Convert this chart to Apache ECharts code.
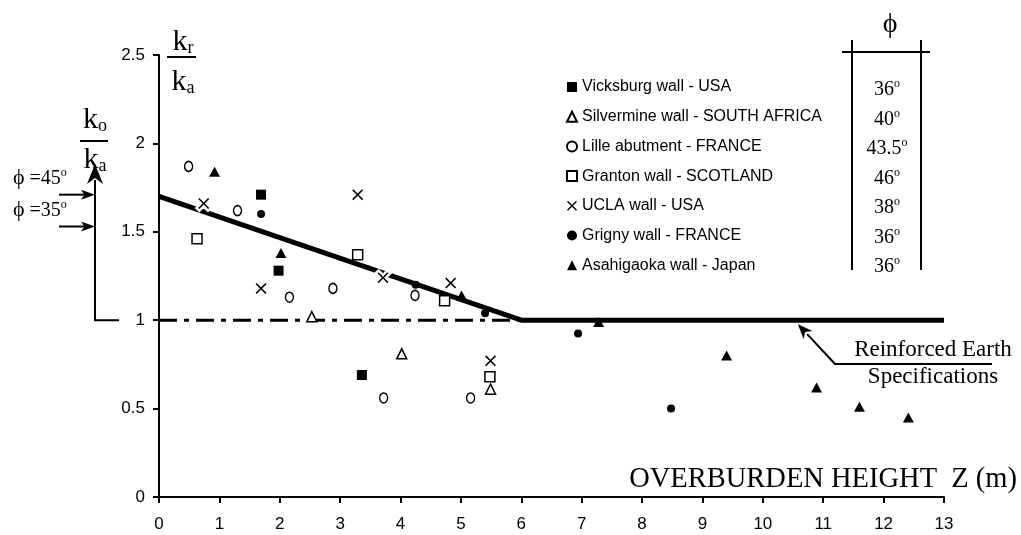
<!DOCTYPE html>
<html>
<head>
<meta charset="utf-8">
<script src="https://cdn.jsdelivr.net/npm/echarts@6/dist/echarts.min.js"></script>
<style>
html,body{margin:0;padding:0;background:#fff;}
#main{width:1021px;height:535px;}
</style>
</head>
<body>
<div id="main"></div>
<script>
// ---- data ----
const xTicks = [0,1,2,3,4,5,6,7,8,9,10,11,12,13];
const yTicks = [0,0.5,1,1.5,2,2.5];
const seriesNames = ['Vicksburg wall - USA','Silvermine wall - SOUTH AFRICA','Lille abutment - FRANCE','Granton wall - SCOTLAND','UCLA wall - USA','Grigny wall - FRANCE','Asahigaoka wall - Japan'];
const phiValues = ['36','40','43.5','46','38','36','36'];
const vicksburg = [[1.69,1.71],[1.98,1.28],[3.36,0.69]];
const silvermine = [[2.53,1.02],[4.02,0.81],[5.49,0.61]];
const lille = [[0.49,1.87],[1.30,1.62],[2.16,1.13],[2.88,1.18],[4.24,1.14],[3.72,0.56],[5.16,0.56]];
const granton = [[0.63,1.46],[3.29,1.37],[4.73,1.11],[5.48,0.68]];
const ucla = [[0.74,1.66],[1.69,1.18],[3.29,1.71],[3.71,1.24],[4.83,1.21],[5.49,0.77]];
const grigny = [[1.69,1.60],[4.25,1.20],[5.40,1.04],[6.94,0.925],[8.48,0.50]];
const asahigaoka = [[0.92,1.84],[2.02,1.38],[5.01,1.14],[7.28,0.99],[9.40,0.80],[10.89,0.62],[11.60,0.51],[12.41,0.45]];
const specLine = [[0,1.7],[6,1.0],[13,1.0]];
const koLine = [[0,1.0],[6,1.0]];
const phiArrowVals = [1.71,1.53];
const phiArrowLabels = ['45','35'];

const SERIF = 'Liberation Serif, DejaVu Serif, serif';
const SANS = 'Liberation Sans, Arial, sans-serif';
const XPATH = 'path://M10,0 L50,40 L90,0 L100,10 L60,50 L100,90 L90,100 L50,60 L10,100 L0,90 L40,50 L0,10 Z';

const chart = echarts.init(document.getElementById('main'), null, {renderer:'canvas'});

function sc(name, data, symbol, size, style, z){
  style.opacity = 1;
  return {type:'scatter', name:name, data:data, symbol:symbol, symbolSize:size,
    itemStyle:style, z:z||5, silent:true, animation:false};
}

const option = {
  backgroundColor:'#fff',
  animation:false,
  grid:{left:159, right:77, top:55, bottom:38},
  xAxis:{type:'value', min:0, max:13, interval:1,
    axisLine:{lineStyle:{color:'#000', width:2}},
    axisTick:{length:6, lineStyle:{color:'#000', width:2}},
    axisLabel:{color:'#000', fontSize:17, fontFamily:SANS, margin:19},
    splitLine:{show:false}},
  yAxis:{type:'value', min:0, max:2.5, interval:0.5,
    axisLine:{show:true, lineStyle:{color:'#000', width:2}},
    axisTick:{show:true, length:6, lineStyle:{color:'#000', width:2}},
    axisLabel:{color:'#000', fontSize:17, fontFamily:SANS, margin:14},
    splitLine:{show:false}},
  legend:{
    data:seriesNames, orient:'vertical', left:566, top:78, padding:0,
    itemWidth:10, itemHeight:10, itemGap:11.7,
    textStyle:{color:'#000', fontSize:16, fontFamily:SANS, lineHeight:18},
    selectedMode:false
  },
  series:[
    {type:'line', data:koLine, symbol:'none', z:2, silent:true,
      lineStyle:{color:'#000', width:3, type:[18,7,5,7]}},
    {type:'line', data:specLine, symbol:'none', z:3, silent:true,
      lineStyle:{color:'#000', width:5}},
    sc('uclaHalo', ucla, XPATH, 11, {color:'#fff', borderColor:'#fff', borderWidth:5}, 4),
    sc(seriesNames[0], vicksburg, 'rect', 10, {color:'#000'}),
    sc(seriesNames[1], silvermine, 'triangle', [10,10], {color:'#fff', borderColor:'#000', borderWidth:1.5}),
    sc(seriesNames[2], lille, 'circle', [8,10], {color:'#fff', borderColor:'#000', borderWidth:1.5}),
    sc(seriesNames[3], granton, 'rect', 10, {color:'#fff', borderColor:'#000', borderWidth:1.5}),
    sc(seriesNames[4], ucla, XPATH, 11, {color:'#000'}),
    sc(seriesNames[5], grigny, 'circle', 8, {color:'#000'}),
    sc(seriesNames[6], asahigaoka, 'triangle', [11,10], {color:'#000'})
  ]
};
chart.setOption(option);

// ---- annotations ----
const px = (x,y) => chart.convertToPixel({gridIndex:0}, [x,y]);
const g = [];
function line(points, w){ g.push({type:'polyline', shape:{points:points}, style:{stroke:'#000', lineWidth:w||2, fill:null}, z:10, silent:true}); }
function poly(points){ g.push({type:'polygon', shape:{points:points}, style:{fill:'#000'}, z:10, silent:true}); }
function txt(x,y,text,size,align,rich){
  g.push({type:'text', x:x, y:y, z:10, silent:true,
    style:{text:text, fill:'#000', font:size+'px '+SERIF, align:align||'left', verticalAlign:'middle', rich:rich}});
}
function arrowHead(tip, from, len, half, notch){
  const dx = tip[0]-from[0], dy = tip[1]-from[1];
  const L = Math.hypot(dx,dy); const ux = dx/L, uy = dy/L;
  const bx = tip[0]-ux*len, by = tip[1]-uy*len;
  const nx = -uy, ny = ux;
  const nb = [tip[0]-ux*len*notch, tip[1]-uy*len*notch];
  poly([tip,[bx+nx*half, by+ny*half], nb, [bx-nx*half, by-ny*half]]);
}

const supRich = {
  a:{fontSize:20, fontFamily:SERIF, fill:'#000'},
  b:{fontSize:12, fontFamily:SERIF, fill:'#000', padding:[0,0,12,0]}
};
const fracRich = {
  k:{fontSize:30, fontFamily:SERIF, fill:'#000'},
  s:{fontSize:18, fontFamily:SERIF, fill:'#000', padding:[12,0,0,0]}
};
// k_r / k_a label at top
txt(183, 42, '{k|k}{s|r}', 30, 'center', fracRich);
line([[167,57],[196,57]], 2);
txt(183, 82, '{k|k}{s|a}', 30, 'center', fracRich);
// k_o / k_a
txt(95, 120, '{k|k}{s|o}', 30, 'center', fracRich);
line([[80,141],[108,141]], 2);
txt(95, 160, '{k|k}{s|a}', 30, 'center', fracRich);

// bracket with arrows
const y1 = px(0,1)[1];
const bx = 95;
line([[bx+24, y1],[bx, y1],[bx, 180]], 2);
arrowHead([bx,164],[bx,190],20,8,0.7);
phiArrowVals.forEach((v,i)=>{
  const yy = px(0,v)[1];
  line([[59,yy],[bx-8,yy]], 2);
  arrowHead([bx,yy],[59,yy],14,5,0.75);
  txt(13, yy-16, '{p|\u03d5} {a|='+phiArrowLabels[i]+'}{b|o}', 20, 'left',
    {p:{fontSize:22, fontFamily:SERIF, fill:'#000'}, a:supRich.a, b:supRich.b});
});

// phi table
txt(890, 25, '\u03d5', 28, 'center');
line([[842,52],[930,52]], 2);
line([[852,40],[852,270]], 2);
line([[921,40],[921,270]], 2);
phiValues.forEach((v,i)=>{
  const yy = 90 + i*29.5;
  txt(887, yy, '{a|'+v+'}{b|o}', 20, 'center', supRich);
});

// Reinforced Earth Specifications
txt(933, 350, 'Reinforced Earth', 23, 'center');
txt(933, 377, 'Specifications', 23, 'center');
const tip = px(10.58,1.0); tip[1] += 4;
const knee = [835,364];
line([[992,364],knee,[tip[0]+ (knee[0]-tip[0])*0.25, tip[1]+(knee[1]-tip[1])*0.25]], 2);
arrowHead(tip, knee, 15, 6, 0.7);

// axis title
txt(1017, 480, 'OVERBURDEN HEIGHT  Z (m)', 28.5, 'right');

chart.setOption({graphic:{elements:g}});
</script>
</body>
</html>
